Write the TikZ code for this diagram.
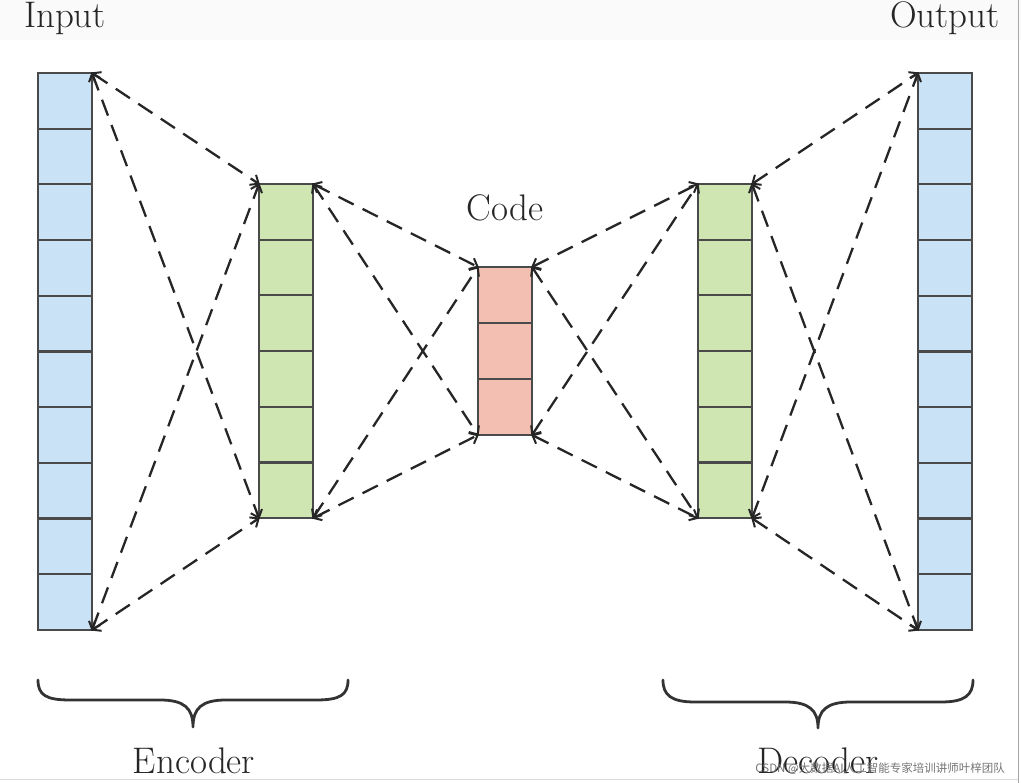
\documentclass[tikz,border=0pt]{standalone}
\usepackage{fontspec}
\newfontfamily\cjk{Noto Sans CJK SC}
\usetikzlibrary{arrows.meta}
\definecolor{cblue}{HTML}{C9E2F5}
\definecolor{cgreen}{HTML}{CFE6B2}
\definecolor{cred}{HTML}{F4BFB3}
\definecolor{cedge}{HTML}{4A4A4A}
\definecolor{ctext}{HTML}{262626}
\tikzset{
  cell/.style={draw=cedge, line width=2.2pt, minimum width=54pt, minimum height=55.7pt,
    inner sep=0pt, outer sep=0pt, anchor=north west},
  incell/.style={cell, fill=cblue},
  gcell/.style={cell, fill=cgreen},
  rcell/.style={cell, fill=cred},
  conn/.style={line width=2.3pt, draw=black!85, dash pattern=on 17pt off 10pt,
    {Straight Barb[length=7pt,width=12pt,line width=2pt]}-{Straight Barb[length=7pt,width=12pt,line width=2pt]}, shorten <=-1pt, shorten >=-1pt},
  lbl/.style={font=\fontsize{37}{42}\selectfont, text=ctext, inner sep=0pt, anchor=base},
  brace/.style={line width=2.8pt, draw=black!80, line cap=round, line join=round},
}
\begin{document}
\begin{tikzpicture}[x=1pt,y=-1pt]
\useasboundingbox (0,0) rectangle (1021,783);
\fill[black!2] (0,0) rectangle (1021,40);
\draw[black!35, line width=1pt] (1018,0) -- (1018,783);
\draw[black!15, line width=1pt] (0,779) -- (1018,779);
% columns
\foreach \i in {1,...,10} {
  \node[incell] (in\i) at (38,{73+55.7*(\i-1)}) {};
  \node[incell] (out\i) at (918,{73+55.7*(\i-1)}) {};
}
\foreach \i in {1,...,6} {
  \node[gcell] (enc\i) at (259,{184+55.7*(\i-1)}) {};
  \node[gcell] (dec\i) at (698,{184+55.7*(\i-1)}) {};
}
\foreach \i in {1,...,3} {
  \node[rcell, minimum height=56pt] (code\i) at (478,{267+56*(\i-1)}) {};
}
% connectors
\draw[conn] (in1.north east) -- (enc1.north west);
\draw[conn] (in1.north east) -- (enc6.south west);
\draw[conn] (in10.south east) -- (enc1.north west);
\draw[conn] (in10.south east) -- (enc6.south west);
\draw[conn] (enc1.north east) -- (code1.north west);
\draw[conn] (enc1.north east) -- (code3.south west);
\draw[conn] (enc6.south east) -- (code1.north west);
\draw[conn] (enc6.south east) -- (code3.south west);
\draw[conn] (code1.north east) -- (dec1.north west);
\draw[conn] (code1.north east) -- (dec6.south west);
\draw[conn] (code3.south east) -- (dec1.north west);
\draw[conn] (code3.south east) -- (dec6.south west);
\draw[conn] (dec1.north east) -- (out1.north west);
\draw[conn] (dec1.north east) -- (out10.south west);
\draw[conn] (dec6.south east) -- (out1.north west);
\draw[conn] (dec6.south east) -- (out10.south west);
% labels
\node[lbl] (tin) at (65,28) {Input};
\node[lbl] (tout) at (945,28) {Output};
\node[lbl] (tcode) at (505,221) {Code};
\node[lbl] (tenc) at (194,773) {Encoder};
\node[lbl] (tdec) at (818,773) {Decoder};
% braces
\draw[brace] (38,680) .. controls (38,695) and (46,700) .. (70,700) -- (160,700)
  .. controls (184,700) and (193,708) .. (193,727)
  .. controls (193,708) and (202,700) .. (226,700) -- (316,700)
  .. controls (340,700) and (348,695) .. (348,680);
\draw[brace] (663,680) .. controls (663,695) and (671,702) .. (695,702) -- (785,702)
  .. controls (809,702) and (818,710) .. (818,728)
  .. controls (818,710) and (827,702) .. (851,702) -- (941,702)
  .. controls (965,702) and (973,695) .. (973,680);
% watermark
\node[font=\cjk\fontsize{11.5}{12}\selectfont, text=black!55, anchor=base east, inner sep=0pt] (wm) at (1005,772) {CSDN @大数据AI人工智能专家培训讲师叶梓团队};
\end{tikzpicture}
\end{document}
